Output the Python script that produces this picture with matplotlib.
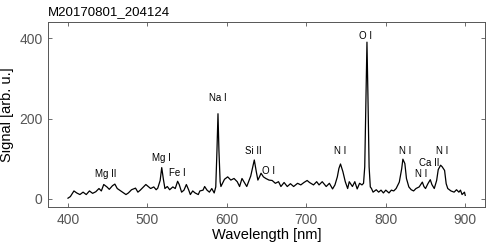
import matplotlib
matplotlib.use("Agg")
import matplotlib.pyplot as plt

plt.rcParams['font.family'] = ['Liberation Sans', 'DejaVu Sans']

# spectrum
wavelength = [400, 403, 407.5, 411, 415, 419, 423, 427, 431, 435, 439, 442, 445, 449,
              452, 456, 459, 462, 465, 469, 473, 476, 480, 485, 488, 491, 495, 498,
              501, 504, 508, 511, 513, 516, 518, 520, 522, 525, 528, 532, 535, 538,
              540, 543, 546, 549, 552, 554, 557, 560, 564, 566, 570, 572, 575, 578,
              581, 584, 586, 587.5, 588.8, 590, 591.5, 592.5, 597, 601, 605, 609,
              613, 616, 619, 622, 625, 628, 630, 634.5, 637, 639, 641, 643, 646, 649,
              653, 657, 661, 665, 668, 672, 676, 680, 684, 689, 693, 697, 701, 704,
              709, 713, 716, 720, 725, 729, 733, 736, 739, 741, 743, 746, 749, 752,
              754, 758, 761, 764, 767, 770, 772, 773.5, 775, 776.3, 777.5, 779,
              780.5, 782, 784, 788, 791, 794, 797, 800, 804, 807, 810, 813, 817, 820,
              821.5, 824, 826, 829, 832, 835, 838, 842, 846, 848, 850, 853, 856, 858,
              861, 864, 866, 869, 871, 874, 876, 878, 882, 886, 889, 892, 894, 896,
              899, 900]
signal = [2, 6, 20, 15, 11, 17, 11, 20, 14, 18, 26, 20, 36, 30,
          24, 33, 37, 26, 22, 17, 11, 15, 23, 27, 17, 22, 30, 36,
          31, 26, 30, 23, 27, 46, 78, 50, 26, 31, 23, 30, 26, 44,
          36, 17, 22, 36, 22, 11, 20, 15, 11, 20, 22, 31, 22, 17,
          26, 15, 30, 120, 212, 120, 43, 31, 49, 55, 47, 51,
          43, 31, 51, 41, 31, 47, 57, 97, 68, 47, 55, 64, 55, 51,
          47, 46, 39, 43, 31, 41, 31, 38, 31, 39, 35, 41, 46, 41,
          35, 43, 35, 43, 31, 39, 25, 35, 55, 76, 87, 68, 43, 26,
          43, 31, 43, 25, 39, 35, 39, 80, 240, 390, 260, 80,
          30, 26, 17, 23, 17, 22, 15, 22, 15, 22, 20, 26, 42, 75,
          99, 88, 51, 30, 23, 20, 26, 30, 42, 31, 26, 38, 48, 36,
          26, 46, 73, 84, 80, 71, 38, 26, 20, 17, 23, 17, 22, 11,
          17, 9]

# line identifications: text, x (nm), y (signal)
line_names = ['Mg II', 'Mg I', 'Fe I', 'Na I', 'Si II', 'O I', 'N I', 'O I',
              'N I', 'N I', 'Ca II', 'N I']
line_x = [448, 518, 537, 589, 633, 652, 742, 775, 824, 844, 854, 871.5]
line_y = [62, 102, 65, 251, 120, 70, 120, 405, 120, 61, 90, 120]

fig = plt.figure(figsize=(4.91, 2.45), dpi=100)
ax = fig.add_axes([0.098, 0.155, 0.89, 0.755])

ax.plot(wavelength, signal, color='black', linewidth=0.9)

for name, x, y in zip(line_names, line_x, line_y):
    ax.text(x, y, name, fontsize=7, ha='center', va='center')

ax.set_xlim(375, 925)
ax.set_ylim(-20, 440)
ax.set_xticks([400, 500, 600, 700, 800, 900])
ax.set_yticks([0, 200, 400])
ax.tick_params(direction='in', top=True, right=True, length=3, width=0.6,
               color='#555555', labelcolor='#555555', labelsize=10, pad=4)
for s in ax.spines.values():
    s.set_color('#555555')
    s.set_linewidth(0.7)

ax.set_xlabel('Wavelength [nm]', fontsize=10.5, labelpad=1)
ax.set_ylabel('Signal [arb. u.]', fontsize=10.5, labelpad=4)
ax.set_title('M20170801_204124', fontsize=9.5, loc='left', pad=5)

fig.savefig('out.png', dpi=100)
